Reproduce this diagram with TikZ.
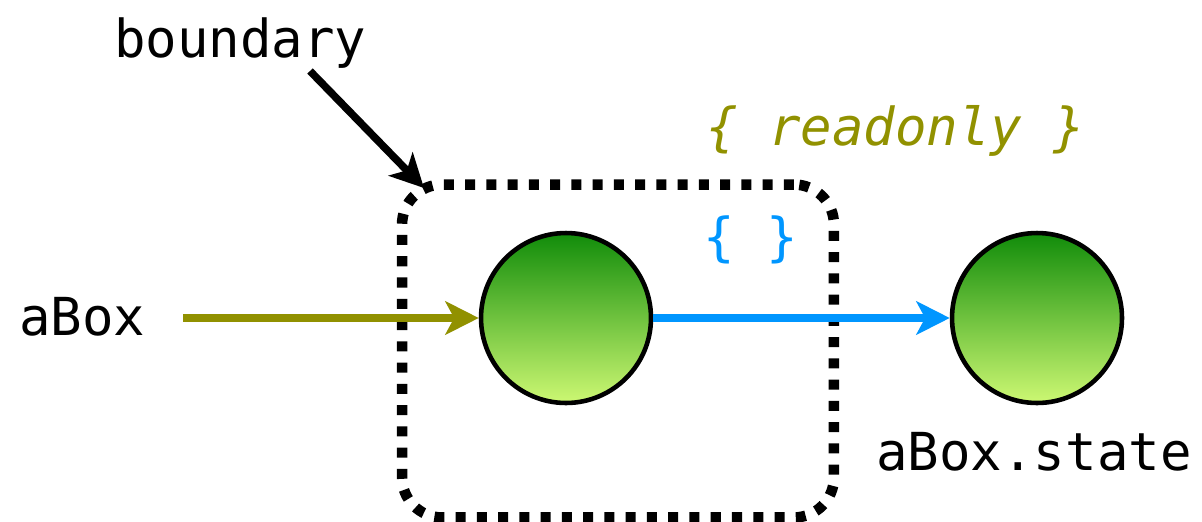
\documentclass[tikz,border=0pt]{standalone}
\usepackage{fontspec}
\setmonofont{DejaVu Sans Mono}
\usetikzlibrary{arrows.meta,positioning}
\definecolor{inkOlive}{RGB}{145,145,0}
\definecolor{inkBlue}{RGB}{0,150,255}
\definecolor{dotTop}{RGB}{17,140,10}
\definecolor{dotBottom}{RGB}{205,248,115}

\tikzset{
  codetext/.style={inner sep=0pt, anchor=base west, font=\fontsize{29.8pt}{36pt}\selectfont\ttfamily},
  fencebox/.style={draw, line width=6pt, dash pattern=on 5.7pt off 6.4pt, rounded corners=0.8cm,
    minimum width=8.64cm, minimum height=6.66cm},
  valuedot/.style={circle, draw, line width=2.6pt, minimum size=3.4cm, top color=dotTop, bottom color=dotBottom},
  feedarrow/.style={line width=4.6pt, -{Stealth[length=19pt, width=19pt, inset=5pt]}},
}

\begin{document}
\begin{tikzpicture}[x=0.02cm, y=-0.02cm]
  \useasboundingbox (0,0) rectangle (1202,521);

  \node[fencebox] (fence) at (618,351) {};
  \node[valuedot] (boxDot) at (566,318) {};
  \node[valuedot] (stateDot) at (1037,318) {};

  \node[codetext] (boundaryLabel) at (114,57) {boundary};
  \node[codetext] (aBoxLabel) at (19,335) {aBox};
  \node[codetext] (stateLabel) at (876,470) {aBox.state};
  \node[codetext, text=inkOlive] (readonlyLabel) at (706,145) {\itshape\{ readonly \}};
  \node[codetext, text=inkBlue] (plainLabel) at (703,255) {\{ \}};

  \coordinate (inStart) at (183,318);
  \coordinate (pointerStart) at (310,71);
  \coordinate (pointerEnd) at (424,188);

  \draw[feedarrow, inkOlive] (inStart) -- (boxDot.west);
  \draw[feedarrow, inkBlue] (boxDot.east) -- (stateDot.west);
  \draw[feedarrow, line width=4.3pt] (pointerStart) -- (pointerEnd);
\end{tikzpicture}
\end{document}
